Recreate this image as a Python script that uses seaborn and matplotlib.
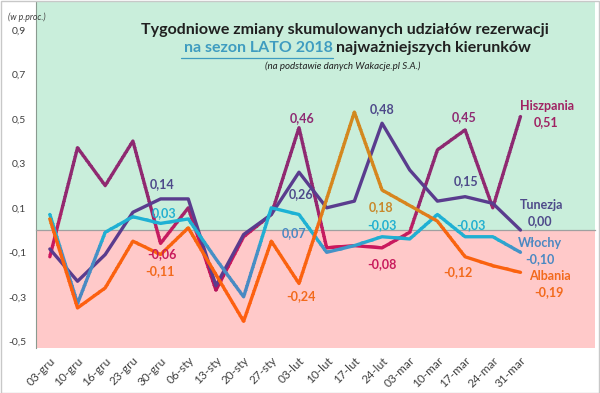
import numpy as np
import pandas as pd
import matplotlib
matplotlib.use("Agg")
import matplotlib.pyplot as plt
import seaborn as sns
from matplotlib.patches import Rectangle
from matplotlib.lines import Line2D
from matplotlib.colors import to_rgb

# ---------------- data ----------------
weeks = ["03-gru", "10-gru", "16-gru", "23-gru", "30-gru", "06-sty", "13-sty",
         "20-sty", "27-sty", "03-lut", "10-lut", "17-lut", "24-lut", "03-mar",
         "10-mar", "17-mar", "24-mar", "31-mar"]
hiszpania = [-0.12, 0.37, 0.20, 0.40, -0.06, 0.10, -0.27, -0.03, 0.07, 0.46,
             -0.08, -0.07, -0.08, -0.01, 0.36, 0.45, 0.10, 0.51]
tunezja = [-0.085, -0.23, -0.11, 0.08, 0.14, 0.14, -0.25, -0.02, 0.07, 0.26,
           0.10, 0.13, 0.48, 0.27, 0.13, 0.15, 0.12, 0.00]
wlochy = [0.07, -0.33, -0.01, 0.06, 0.03, 0.05, -0.13, -0.30, 0.10, 0.07,
          -0.10, -0.07, -0.03, -0.04, 0.07, -0.03, -0.03, -0.10]
albania = [0.05, -0.35, -0.26, -0.05, -0.11, 0.01, -0.20, -0.41, -0.05, -0.24,
           0.14, 0.53, 0.18, 0.11, 0.04, -0.12, -0.16, -0.19]
ytick_vals = [-0.5, -0.3, -0.1, 0.1, 0.3, 0.5, 0.7, 0.9]

df = pd.DataFrame({"pos": np.arange(len(weeks)), "week": weeks,
                   "Hiszpania": hiszpania, "Tunezja": tunezja,
                   "Włochy": wlochy, "Albania": albania})

# ---------------- styling ----------------
sns.set_theme(style="white")
plt.rcParams["font.family"] = ["Lato", "DejaVu Sans"]

GREEN = "#C9EEDB"
PINK = "#FFC9C9"
TXT = "#404040"
C_TUN = "#5A3C8E"

# vertical colour gradients (value, colour), ascending value
grad = {
    "Hiszpania": [(-0.35, "#A8145A"), (-0.12, "#CE165C"), (0.0, "#C41C60"),
                  (0.12, "#922870"), (0.6, "#8A2A72")],
    "Tunezja": [(-0.5, C_TUN), (0.6, C_TUN)],
    "Włochy": [(-0.35, "#4A86C0"), (-0.09, "#4790C6"), (-0.04, "#22AED2"),
               (0.15, "#18B4D6")],
    "Albania": [(-0.45, "#FF5E10"), (0.0, "#F8640F"), (0.10, "#D8851E"),
                (0.6, "#D0891F")],
}

YLO, YHI = -0.53, 1.025
fig = plt.figure(figsize=(6.0, 3.93), dpi=100)
ax = fig.add_axes([0.06, 0.1145, 0.932, 0.8805])
ax.set_xlim(-0.5, 19.7)
ax.set_ylim(YLO, YHI)
ax.axhspan(0, 2, color=GREEN, zorder=0, lw=0)
ax.axhspan(-2, 0, color=PINK, zorder=0, lw=0)


def interp_color(v, stops):
    vs = [s[0] for s in stops]
    cs = np.array([to_rgb(s[1]) for s in stops])
    return tuple(np.interp(v, vs, cs[:, k]) for k in range(3))


order = ["Hiszpania", "Tunezja", "Włochy", "Albania"]
step = 0.02
for name in order:
    stops = grad[name]
    if len(stops) == 2 and stops[0][1] == stops[1][1]:
        sns.lineplot(data=df, x="pos", y=name, color=stops[0][1], lw=2.4,
                     ax=ax, zorder=3, legend=False)
        continue
    lo_s, hi_s = stops[0][0], stops[-1][0]
    edges = list(np.arange(lo_s, hi_s + 1e-9, step))
    bands = [(-2.0, lo_s)] + [(e, e + step) for e in edges] + [(edges[-1] + step, 2.0)]
    for lo, hi in bands:
        c = interp_color(np.clip((lo + hi) / 2, lo_s, hi_s), stops)
        sns.lineplot(data=df, x="pos", y=name, color=c, lw=2.4, ax=ax,
                     zorder=3, legend=False)
        ln = ax.lines[-1]
        ln.set_clip_path(Rectangle((-5, lo - 0.002), 40, (hi - lo) + 0.004,
                                   transform=ax.transData))

# axes decoration
for s in ["top", "right"]:
    ax.spines[s].set_visible(False)
ax.spines["left"].set_color("#8A9A90")
ax.spines["left"].set_linewidth(0.8)
ax.spines["bottom"].set_position(("data", 0))
ax.spines["bottom"].set_color("#A0A0A0")
ax.spines["bottom"].set_linewidth(0.9)
ax.set_xticks(np.arange(0.5, 19.6, 1.0))
ax.tick_params(axis="x", direction="out", length=4, color="#A0A0A0",
               labelbottom=False, width=0.8)
ax.set_yticks(ytick_vals)
ax.set_yticklabels([f"{v:.1f}".replace(".", ",") for v in ytick_vals])
ax.tick_params(axis="y", direction="out", length=4, color="#8A8A8A",
               labelsize=7.5, labelcolor=TXT, pad=3, width=0.8)
ax.set_xlabel("")
ax.set_ylabel("")

sec = ax.secondary_xaxis("bottom")
sec.set_xticks(np.arange(len(weeks)))
sec.set_xticklabels(weeks)
sec.tick_params(length=0, labelsize=8.5, labelcolor=TXT, pad=5)
sec.spines["bottom"].set_visible(False)
for lab in sec.get_xticklabels():
    lab.set_rotation(45)
    lab.set_ha("right")
    lab.set_rotation_mode("anchor")

# unit label (sits just above the 0,9 tick label)
fig.text(0.013, 1 - 17 / 393, "(w p.proc.)", fontsize=6.3, style="italic",
         color=TXT, va="center", ha="left")

# data labels
lab_kw = dict(fontsize=9, fontweight="bold", ha="center", va="center", zorder=5)
labels = [
    (4.06, 0.207, "0,14", "#4E4A8A"),
    (4.13, 0.076, "0,03", "#22B0D0"),
    (4.06, -0.108, "-0,06", "#C81A5C"),
    (3.99, -0.184, "-0,11", "#F26A1C"),
    (9.13, 0.503, "0,46", "#8E2A72"),
    (9.09, 0.162, "0,26", "#4E4A8A"),
    (8.84, -0.013, "0,07", "#4A88C2"),
    (9.06, -0.297, "-0,24", "#F26A1C"),
    (11.99, 0.544, "0,48", "#4E4A8A"),
    (11.96, 0.104, "0,18", "#C8882A"),
    (11.99, 0.022, "-0,03", "#22B0D0"),
    (11.99, -0.153, "-0,08", "#C81A5C"),
    (14.96, 0.508, "0,45", "#8E2A72"),
    (15.04, 0.220, "0,15", "#4E4A8A"),
    (15.2, 0.022, "-0,03", "#22B0D0"),
    (14.75, -0.189, "-0,12", "#F26A1C"),
    (17.97, 0.557, "Hiszpania", "#A02262"),
    (17.94, 0.485, "0,51", "#A02262"),
    (17.75, 0.112, "Tunezja", "#4E4A8A"),
    (17.72, 0.040, "0,00", "#4E4A8A"),
    (17.72, -0.058, "Włochy", "#4A88C2"),
    (17.72, -0.130, "-0,10", "#4A88C2"),
    (18.08, -0.207, "Albania", "#F26A1C"),
    (18.04, -0.279, "-0,19", "#F26A1C"),
]
for x, y, t, c in labels:
    ax.text(x, y, t, color=c, **lab_kw)

# title
fig.text(345 / 600, 1 - 30 / 393,
         "Tygodniowe zmiany skumulowanych udziałów rezerwacji",
         fontsize=11.5, fontweight="bold", color="#202020", ha="center", va="center")
fig.text(333 / 600, 1 - 48 / 393, "na sezon LATO 2018", fontsize=11.5,
         fontweight="bold", color="#3E9CC0", ha="right", va="center")
fig.text(336 / 600, 1 - 48 / 393, "najważniejszych kierunków", fontsize=11.5,
         fontweight="bold", color="#202020", ha="left", va="center")
fig.add_artist(Line2D([181 / 600, 333 / 600], [1 - 57.5 / 393, 1 - 57.5 / 393],
                      color="#3E9CC0", lw=0.9))
fig.text(343 / 600, 1 - 66 / 393, "(na podstawie danych Wakacje.pl S.A.)",
         fontsize=7, style="italic", color="#202020", ha="center", va="center")

# chart border
fig.add_artist(Rectangle((0.001, 0.001), 0.997, 0.997, transform=fig.transFigure,
                         fill=False, ec="#C8C8C8", lw=1.0))

fig.savefig("out.png", dpi=100)
